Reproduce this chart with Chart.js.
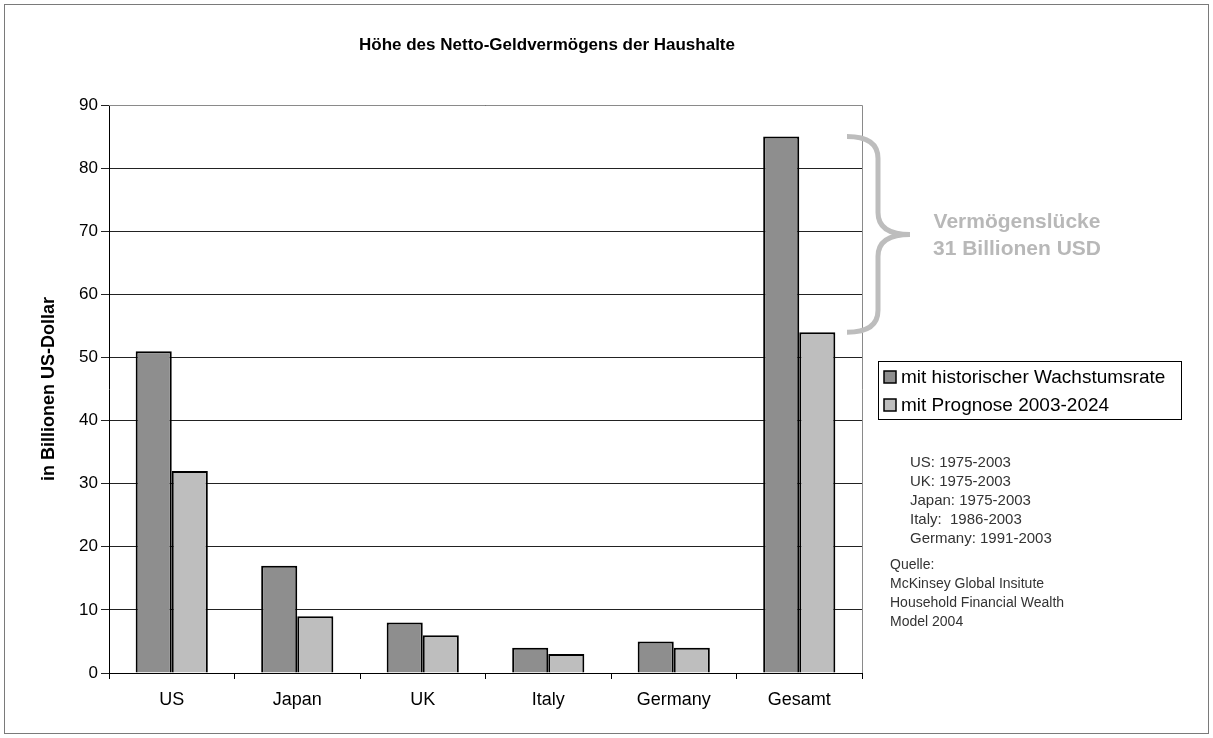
<!DOCTYPE html>
<html>
<head>
<meta charset="utf-8">
<script src="https://cdn.jsdelivr.net/npm/chart.js@4.4.1/dist/chart.umd.min.js"></script>
<style>
  html, body { margin: 0; padding: 0; background: #fff; }
  #wrap { width: 1213px; height: 738px; }
</style>
</head>
<body>
<div id="wrap"><canvas id="chart" width="1213" height="738"></canvas></div>
<script>
const categories = ['US', 'Japan', 'UK', 'Italy', 'Germany', 'Gesamt'];
const historisch = [51, 17, 8, 4, 5, 85];
const prognose = [32, 9, 6, 3, 4, 54];
const seriesNames = ['mit historischer Wachstumsrate', 'mit Prognose 2003-2024'];
const gapLines = ['Vermögenslücke', '31 Billionen USD'];
const periodNotes = ['US: 1975-2003', 'UK: 1975-2003', 'Japan: 1975-2003', 'Italy:  1986-2003', 'Germany: 1991-2003'];
const sourceNotes = ['Quelle:', 'McKinsey Global Insitute', 'Household Financial Wealth', 'Model 2004'];

const FONT = '"Liberation Sans", Arial, sans-serif';

const extras = {
  id: 'extras',
  afterDraw(chart) {
    const { ctx, chartArea: a, scales } = chart;
    ctx.save();

    // outer frame
    ctx.strokeStyle = '#7a7a7a';
    ctx.lineWidth = 1;
    ctx.strokeRect(4.5, 4.5, 1204, 729);

    // plot border top/right
    ctx.strokeStyle = '#8a8a8a';
    ctx.beginPath();
    ctx.moveTo(a.left, a.top + 0.5);
    ctx.lineTo(a.right + 0.5, a.top + 0.5);
    ctx.lineTo(a.right + 0.5, a.bottom);
    ctx.stroke();

    // title
    ctx.fillStyle = '#000';
    ctx.font = 'bold 17px ' + FONT;
    ctx.textAlign = 'center';
    ctx.textBaseline = 'middle';
    ctx.fillText('Höhe des Netto-Geldvermögens der Haushalte', 547, 45);

    // brace between the two Gesamt bars
    const yTop = scales.y.getPixelForValue(historisch[5]);
    const yBot = scales.y.getPixelForValue(prognose[5]);
    const yMid = (yTop + yBot) / 2;
    const x0 = 847, x1 = 878, x2 = 910;
    ctx.strokeStyle = '#bdbdbd';
    ctx.lineWidth = 5;
    ctx.beginPath();
    ctx.moveTo(x0, yTop);
    ctx.quadraticCurveTo(x1, yTop, x1, yTop + 22);
    ctx.lineTo(x1, yMid - 22);
    ctx.quadraticCurveTo(x1, yMid, x2, yMid);
    ctx.quadraticCurveTo(x1, yMid, x1, yMid + 22);
    ctx.lineTo(x1, yBot - 22);
    ctx.quadraticCurveTo(x1, yBot, x0, yBot);
    ctx.stroke();

    ctx.fillStyle = '#b8b8b8';
    ctx.font = 'bold 21px ' + FONT;
    ctx.fillText(gapLines[0], 1017, 222);
    ctx.fillText(gapLines[1], 1017, 249);

    // legend
    ctx.lineWidth = 1;
    ctx.strokeStyle = '#000';
    ctx.strokeRect(878.5, 361.5, 303, 58);
    ctx.textAlign = 'left';
    ctx.font = '19px ' + FONT;
    chart.data.datasets.forEach((ds, i) => {
      const cy = 377 + i * 28;
      ctx.fillStyle = ds.backgroundColor;
      ctx.fillRect(884, cy - 6, 12, 12);
      ctx.lineWidth = 1.5;
      ctx.strokeRect(884, cy - 6, 12, 12);
      ctx.fillStyle = '#000';
      ctx.fillText(ds.label, 901, cy + 1);
    });

    // notes
    ctx.fillStyle = '#333';
    ctx.font = '15px ' + FONT;
    periodNotes.forEach((t, i) => ctx.fillText(t, 910, 463 + i * 19));
    ctx.font = '14px ' + FONT;
    sourceNotes.forEach((t, i) => ctx.fillText(t, 890, 565 + i * 19));

    ctx.restore();
  },
};

new Chart(document.getElementById('chart'), {
  type: 'bar',
  data: {
    labels: categories,
    datasets: [
      {
        label: seriesNames[0],
        data: historisch,
        backgroundColor: '#8e8e8e',
        borderColor: '#000',
        borderWidth: 2,
        borderSkipped: 'bottom',
      },
      {
        label: seriesNames[1],
        data: prognose,
        backgroundColor: '#bebebe',
        borderColor: '#000',
        borderWidth: 2,
        borderSkipped: 'bottom',
      },
    ],
  },
  options: {
    responsive: false,
    animation: false,
    events: [],
    datasets: { bar: { categoryPercentage: 0.575, barPercentage: 1 } },
    layout: { padding: { left: 38, top: 105, right: 351, bottom: 0 } },
    scales: {
      x: {
        afterFit: (s) => { s.height = 65; },
        grid: { offset: true, drawOnChartArea: false, drawTicks: true, tickLength: 6, color: '#000' },
        border: { color: '#000', width: 1 },
        ticks: { color: '#000', font: { family: FONT, size: 18 }, padding: 10 },
      },
      y: {
        min: 0,
        max: 90,
        afterFit: (s) => { s.width = 71; },
        ticks: { stepSize: 10, color: '#000', font: { family: FONT, size: 17 }, padding: 3 },
        grid: { color: '#222', lineWidth: 1, tickLength: 8 },
        border: { color: '#000', width: 1 },
        title: {
          display: true,
          text: 'in Billionen US-Dollar',
          color: '#000',
          font: { family: FONT, size: 18, weight: 'bold' },
          padding: 0,
        },
      },
    },
    plugins: {
      legend: { display: false },
      tooltip: { enabled: false },
    },
  },
  plugins: [extras],
});
</script>
</body>
</html>
